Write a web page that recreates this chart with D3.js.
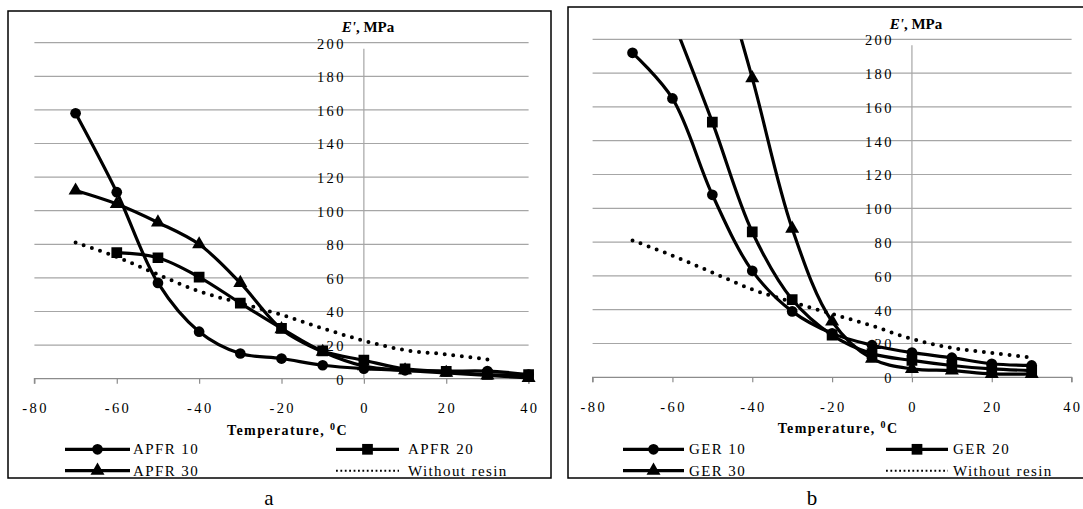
<!DOCTYPE html>
<html>
<head>
<meta charset="utf-8">
<script src="https://d3js.org/d3.v7.min.js"></script>
<style>
    body { margin: 0; background: #fff; }
    svg text { font-family: "Liberation Serif", "Times New Roman", "DejaVu Serif", serif; fill: #000; }
    .tick-lbl { font-size: 14.5px; letter-spacing: 2.4px; }
    .leg-lbl { font-size: 15px; letter-spacing: 1.4px; }
    .ttl { font-size: 14px; font-weight: bold; letter-spacing: 1.4px; }
</style>
</head>
<body>
<svg id="chart" width="1083" height="509"></svg>
<script>
// panel a: APFR resin
const tempsA = [-70, -60, -50, -40, -30, -20, -10, 0, 10, 20, 30, 40];
const apfr10 = [158, 111, 57, 28, 15, 12, 8, 6, 5, 4.5, 4.5, 2.5];
const apfr20 = [null, 75, 72, 60.5, 45, 30, 16.5, 11, 5.8, 4.3, 2.5, 2.5];
const apfr30 = [112, 104, 93, 80, 57, 29.5, 16, 7.5, 5, 3.5, 2, 0.5];
const noResinA = [81, 72.5, 62, 52, 45, 38, 30, 22.6, 17, 14.5, 11.5, null];

// panel b: GER resin
const tempsB = [-70, -60, -50, -40, -30, -20, -10, 0, 10, 20, 30];
const ger10 = [192, 165, 108, 63, 39, 26, 19, 14.6, 11.6, 8, 7];
const ger20 = [null, 212, 151, 86, 46, 25, 14, 10, 7, 5, 4];
const ger30 = [null, null, 259, 177, 88, 33, 11, 5, 4, 2, 2];
const noResinB = [81, 72, 62, 52, 44.5, 37.5, 30.5, 22.7, 17.4, 14.4, 11.6];

const xTicks = [-80, -60, -40, -20, 0, 20, 40];
const yTicks = [0, 20, 40, 60, 80, 100, 120, 140, 160, 180, 200];

const svg = d3.select("#chart");

const panels = [
    {
        id: "a", frame: [8, 11, 551, 478], xr: [34.4, 528.6], yr: [378.7, 42.7],
        temps: tempsA,
        series: [
            { name: "APFR 10", vals: apfr10, sym: d3.symbolCircle, size: 90 },
            { name: "APFR 20", vals: apfr20, sym: d3.symbolSquare, size: 115 },
            { name: "APFR 30", vals: apfr30, sym: d3.symbolTriangle, size: 85 },
            { name: "Without resin", vals: noResinA, dotted: true }
        ],
        xLblY: 408, titleY: 430, eLbl: [341.7, 31.7],
        leg: { c1: [65, 130, 133], c2: [336, 399, 408], rows: [449.3, 470.7] },
        letter: [269, 505]
    },
    {
        id: "b", frame: [568, 7, 1095, 478], xr: [592.6, 1071.6], yr: [377.3, 39.3],
        temps: tempsB,
        series: [
            { name: "GER 10", vals: ger10, sym: d3.symbolCircle, size: 90 },
            { name: "GER 20", vals: ger20, sym: d3.symbolSquare, size: 115 },
            { name: "GER 30", vals: ger30, sym: d3.symbolTriangle, size: 85 },
            { name: "Without resin", vals: noResinB, dotted: true }
        ],
        xLblY: 407, titleY: 428, eLbl: [889.7, 28.5],
        leg: { c1: [623, 684, 689], c2: [886, 948, 953], rows: [449.3, 470.7] },
        letter: [812, 505]
    }
];

panels.forEach(p => {
    const [fx0, fy0, fx1, fy1] = p.frame;
    const x = d3.scaleLinear().domain([-80, 40]).range(p.xr);
    const y = d3.scaleLinear().domain([0, 200]).range(p.yr);

    // clip for whole panel (legend is cut by frame)
    svg.append("clipPath").attr("id", "frame-" + p.id)
        .append("rect").attr("x", fx0).attr("y", fy0).attr("width", fx1 - fx0).attr("height", fy1 - fy0);
    svg.append("clipPath").attr("id", "plot-" + p.id)
        .append("rect").attr("x", p.xr[0] - 10).attr("y", p.yr[1])
        .attr("width", p.xr[1] - p.xr[0] + 20).attr("height", p.yr[0] - p.yr[1] + 12);

    const g = svg.append("g").attr("clip-path", `url(#frame-${p.id})`);

    // gridlines
    g.selectAll(".grid").data(yTicks.filter(d => d > 0)).join("line")
        .attr("x1", p.xr[0]).attr("x2", p.xr[1])
        .attr("y1", d => y(d)).attr("y2", d => y(d))
        .attr("stroke", "#a6a6a6").attr("stroke-width", 1.2);

    // x axis line with ticks (at y=0)
    const xAxis = d3.axisBottom(x).tickValues(xTicks).tickSize(5).tickFormat("");
    const gx = g.append("g").attr("transform", `translate(0,${y(0)})`).call(xAxis);
    gx.select(".domain").attr("stroke", "#8c8c8c").attr("stroke-width", 1.2).attr("d", `M${p.xr[0]},5V0H${p.xr[1]}V5`);
    gx.selectAll(".tick line").attr("stroke", "#8c8c8c").attr("stroke-width", 1.2);

    // y axis line at x=0
    g.append("line").attr("x1", x(0)).attr("x2", x(0)).attr("y1", y(200) + 6).attr("y2", y(0))
        .attr("stroke", "#a6a6a6").attr("stroke-width", 1.2);

    // y tick labels
    g.selectAll(".ylbl").data(yTicks).join("text")
        .attr("class", "tick-lbl")
        .attr("x", x(0) - 18).attr("y", d => y(d) + 0.8)
        .attr("text-anchor", "end").attr("dominant-baseline", "central")
        .text(d => d);

    // x tick labels
    g.selectAll(".xlbl").data(xTicks).join("text")
        .attr("class", "tick-lbl")
        .attr("x", d => x(d) + 1.2).attr("y", p.xLblY)
        .attr("text-anchor", "middle").attr("dominant-baseline", "central")
        .text(d => d);

    // axis titles
    const t = g.append("text").attr("class", "ttl")
        .attr("x", (p.xr[0] + p.xr[1]) / 2 + 6).attr("y", p.titleY)
        .attr("text-anchor", "middle").attr("dominant-baseline", "central");
    t.append("tspan").text("Temperature, ");
    t.append("tspan").attr("font-size", "10px").attr("dy", -4).text("0");
    t.append("tspan").attr("dy", 4).text("C");

    const e = g.append("text").attr("x", p.eLbl[0]).attr("y", p.eLbl[1])
        .attr("font-size", "15px").attr("font-weight", "bold");
    e.append("tspan").attr("font-style", "italic").text("E'");
    e.append("tspan").text(", MPa");

    // series
    const plot = g.append("g").attr("clip-path", `url(#plot-${p.id})`);
    p.series.forEach(s => {
        const pts = p.temps.map((tv, i) => [tv, s.vals[i]]).filter(d => d[1] != null);
        const line = d3.line().x(d => x(d[0])).y(d => y(d[1])).curve(d3.curveCatmullRom.alpha(0.5));
        const path = plot.append("path").datum(pts).attr("d", line)
            .attr("fill", "none").attr("stroke", "#000");
        if (s.dotted) {
            path.attr("stroke-width", 4).attr("stroke-linecap", "round").attr("stroke-dasharray", "0 8.6");
        } else {
            path.attr("stroke-width", 3.2);
            plot.selectAll(null).data(pts).join("path")
                .attr("transform", d => `translate(${x(d[0])},${y(d[1])})`)
                .attr("d", d3.symbol(s.sym, s.size))
                .attr("fill", "#000");
        }
    });

    // legend
    const legPos = [[p.leg.c1, p.leg.rows[0]], [p.leg.c2, p.leg.rows[0]], [p.leg.c1, p.leg.rows[1]], [p.leg.c2, p.leg.rows[1]]];
    p.series.forEach((s, i) => {
        const [c, ry] = legPos[i];
        const l = g.append("line").attr("x1", c[0]).attr("x2", c[1]).attr("y1", ry).attr("y2", ry)
            .attr("stroke", "#000");
        if (s.dotted) {
            l.attr("stroke-width", 2).attr("stroke-dasharray", "1.8 2.6");
        } else {
            l.attr("stroke-width", 3.2);
            g.append("path").attr("transform", `translate(${(c[0] + c[1]) / 2},${ry})`)
                .attr("d", d3.symbol(s.sym, s.size)).attr("fill", "#000");
        }
        g.append("text").attr("class", "leg-lbl").attr("x", c[2]).attr("y", ry)
            .attr("dominant-baseline", "central").text(s.name);
    });

    // frame
    svg.append("rect").attr("x", fx0).attr("y", fy0).attr("width", fx1 - fx0).attr("height", fy1 - fy0)
        .attr("fill", "none").attr("stroke", "#000").attr("stroke-width", 1.5);

    // panel letter
    svg.append("text").attr("x", p.letter[0]).attr("y", p.letter[1])
        .attr("text-anchor", "middle").attr("font-size", "21px").text(p.id);
});
</script>
</body>
</html>
